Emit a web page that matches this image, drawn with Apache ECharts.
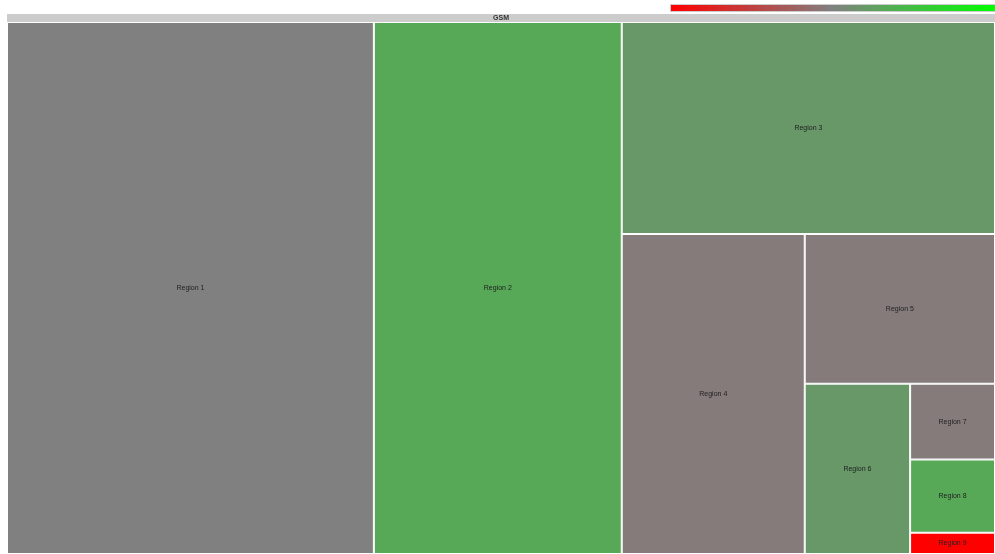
<!DOCTYPE html>
<html>
<head>
<meta charset="utf-8">
<script src="https://cdn.jsdelivr.net/npm/echarts@6/dist/echarts.min.js"></script>
<style>
  html, body { margin: 0; padding: 0; background: #fff; }
  #main { width: 995px; height: 554px; }
</style>
</head>
<body>
<div id="main"></div>
<script>
// treemap data
const rootName = "GSM";
const regions = ["Region 1", "Region 2", "Region 3", "Region 4", "Region 5",
  "Region 6", "Region 7", "Region 8", "Region 9"];
const sizes = [37, 25, 15, 11.1, 5.4, 3.4, 1.22, 1.18, 0.34];
const colorValues = [0, 0.32, 0.19, -0.04, -0.04, 0.19, -0.04, 0.32, -1];

const chart = echarts.init(document.getElementById("main"));

const children = regions.map((name, i) => ({
  name: name,
  value: [sizes[i], colorValues[i]],
}));

const option = {
  animation: false,
  // colour scale bar (top right)
  graphic: [
    {
      type: "rect",
      left: 670,
      top: 4,
      shape: { width: 325, height: 7 },
      style: {
        fill: new echarts.graphic.LinearGradient(0, 0, 1, 0, [
          { offset: 0, color: "#ff0000" },
          { offset: 0.5, color: "#808080" },
          { offset: 1, color: "#00ff00" },
        ]),
        stroke: "#cccccc",
        lineWidth: 1,
      },
    },
  ],
  series: [
    {
      type: "treemap",
      left: 7,
      top: 14,
      right: 0,
      bottom: 0,
      roam: false,
      nodeClick: false,
      breadcrumb: { show: false },
      sort: "desc",
      squareRatio: 0.9,
      visualDimension: 1,
      label: {
        show: true,
        position: "inside",
        align: "center",
        verticalAlign: "middle",
        formatter: "{b}",
        fontFamily: "Arial, Liberation Sans, sans-serif",
        fontSize: 7,
        color: "#222",
      },
      levels: [
        {
          // virtual root
          itemStyle: { borderWidth: 0, gapWidth: 0 },
        },
        {
          // GSM header node
          color: ["#ff0000", "#808080", "#00ff00"],
          colorMappingBy: "value",
          visualMin: -1,
          visualMax: 1,
          itemStyle: {
            color: "#ffffff",
            borderColor: "#cccccc",
            borderWidth: 0,
            gapWidth: 0,
          },
          upperLabel: {
            show: true,
            height: 8,
            position: "inside",
            align: "center",
            verticalAlign: "middle",
            color: "#333",
            fontWeight: "bold",
            fontSize: 7,
            fontFamily: "Arial, Liberation Sans, sans-serif",
          },
        },
        {
          itemStyle: { borderColor: "#ffffff", borderWidth: 1, gapWidth: 0 },
        },
      ],
      data: [
        {
          name: rootName,
          value: [sizes.reduce((a, b) => a + b, 0), 0],
          children: children,
        },
      ],
    },
  ],
};

chart.setOption(option);
</script>
</body>
</html>
